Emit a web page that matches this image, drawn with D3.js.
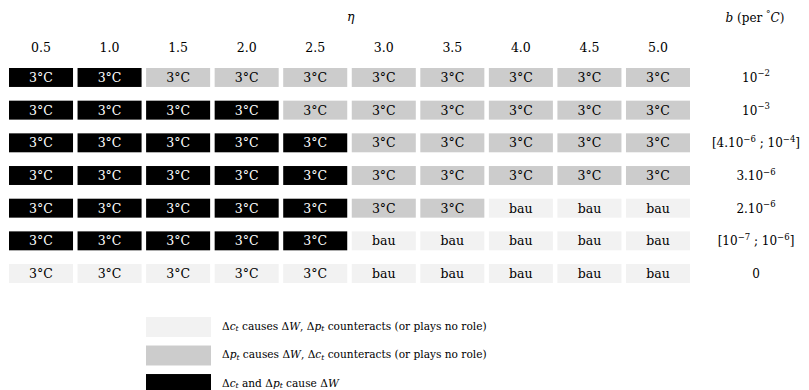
<!DOCTYPE html>
<html>
<head>
<meta charset="utf-8">
<script src="https://cdn.jsdelivr.net/npm/d3@7"></script>
<style>
  html, body { margin: 0; padding: 0; background: #fff; }
</style>
</head>
<body>
<svg id="chart" width="809" height="390"></svg>
<script>
// η values along the columns
const etaValues = ["0.5", "1.0", "1.5", "2.0", "2.5", "3.0", "3.5", "4.0", "4.5", "5.0"];

// b values, one per row, split into plain and superscript pieces
const bLabels = [
  [["10"], ["-2", "sup"]],
  [["10"], ["-3", "sup"]],
  [["[4.10"], ["-6", "sup"], [" ; 10"], ["-4", "sup"], ["]"]],
  [["3.10"], ["-6", "sup"]],
  [["2.10"], ["-6", "sup"]],
  [["[10"], ["-7", "sup"], [" ; 10"], ["-6", "sup"], ["]"]],
  [["0"]]
];

// Cause code per cell: C = Δc causes ΔW, P = Δp causes ΔW, B = both
const causeRows = [
  "BBPPPPPPPP",
  "BBBBPPPPPP",
  "BBBBBPPPPP",
  "BBBBBPPPPP",
  "BBBBBPPCCC",
  "BBBBBCCCCC",
  "CCCCCCCCCC"
];

// Optimal policy outcome per cell: T = 3°C target, U = business as usual
const outcomeRows = [
  "TTTTTTTTTT",
  "TTTTTTTTTT",
  "TTTTTTTTTT",
  "TTTTTTTTTT",
  "TTTTTTTUUU",
  "TTTTTUUUUU",
  "TTTTTUUUUU"
];

const FONT = "DejaVu Serif";
const outcomeText = { T: "3°C", U: "bau" };
const causeKeys = ["C", "P", "B"];
const causeFill = d3.scaleOrdinal().domain(causeKeys).range(["#f2f2f2", "#cccccc", "#000000"]);
const causeInk = d3.scaleOrdinal().domain(causeKeys).range(["#000", "#000", "#fff"]);

const svg = d3.select("#chart").attr("font-family", FONT);

const x = d3.scaleBand().domain(etaValues).range([9, 690]).paddingInner(0.066).paddingOuter(0);
const y = d3.scaleBand().domain(d3.range(bLabels.length)).range([68, 283]).paddingInner(0.42).paddingOuter(0);

const cells = [];
causeRows.forEach((row, r) => {
  etaValues.forEach((eta, c) => {
    cells.push({ r, eta, cause: row[c], outcome: outcomeRows[r][c] });
  });
});

// Column headers
svg.append("g").selectAll("text").data(etaValues).join("text")
  .attr("font-family", FONT)
  .attr("x", d => x(d) + x.bandwidth() / 2)
  .attr("y", 52)
  .attr("text-anchor", "middle")
  .attr("font-size", 12.5)
  .text(d => d);

// Axis titles
svg.append("text")
  .attr("font-family", FONT)
  .attr("x", x("3.0") - 1).attr("y", 21)
  .attr("text-anchor", "middle")
  .attr("font-size", 12.5).attr("font-style", "italic")
  .text("η");

const bt = svg.append("text").attr("font-family", FONT).attr("x", 755).attr("y", 22)
  .attr("text-anchor", "middle").attr("font-size", 12);
bt.append("tspan").attr("font-style", "italic").text("b");
bt.append("tspan").text(" (per ");
bt.append("tspan").attr("font-size", 9).attr("dy", -5).text("°");
bt.append("tspan").attr("font-style", "italic").attr("dy", 5).text("C");
bt.append("tspan").text(")");

// Cells
const g = svg.append("g");
g.selectAll("rect").data(cells).join("rect")
  .attr("x", d => x(d.eta))
  .attr("y", d => y(d.r))
  .attr("width", x.bandwidth())
  .attr("height", y.bandwidth())
  .attr("fill", d => causeFill(d.cause));

g.selectAll("text").data(cells).join("text")
  .attr("font-family", FONT)
  .attr("x", d => x(d.eta) + x.bandwidth() / 2)
  .attr("y", d => y(d.r) + y.bandwidth() / 2 + 4.5)
  .attr("text-anchor", "middle")
  .attr("font-size", 12.5)
  .attr("fill", d => causeInk(d.cause))
  .text(d => outcomeText[d.outcome]);

// Row labels (b values)
const rl = svg.append("g").selectAll("text").data(bLabels).join("text")
  .attr("font-family", FONT)
  .attr("x", 756)
  .attr("y", (d, i) => y(i) + y.bandwidth() / 2 + 4.5)
  .attr("text-anchor", "middle")
  .attr("font-size", 12);
rl.each(function(parts) {
  const t = d3.select(this);
  let raised = false;
  parts.forEach(p => {
    const sup = p[1] === "sup";
    const s = t.append("tspan").text(p[0].replace("-", "\u2212"));
    if (sup && !raised) { s.attr("dy", -5.5).attr("font-size", 8.5); raised = true; }
    else if (sup) { s.attr("font-size", 8.5); }
    else if (raised) { s.attr("dy", 5.5); raised = false; }
  });
});

// Legend
const legendItems = [
  { key: "C", parts: [["Δ"], ["c", "i"], ["t", "sub"], [" causes Δ"], ["W", "i"], [", Δ"], ["p", "i"], ["t", "sub"], [" counteracts (or plays no role)"]] },
  { key: "P", parts: [["Δ"], ["p", "i"], ["t", "sub"], [" causes Δ"], ["W", "i"], [", Δ"], ["c", "i"], ["t", "sub"], [" counteracts (or plays no role)"]] },
  { key: "B", parts: [["Δ"], ["c", "i"], ["t", "sub"], [" and Δ"], ["p", "i"], ["t", "sub"], [" cause Δ"], ["W", "i"]] }
];
const ly = d3.scaleBand().domain(d3.range(legendItems.length)).range([317, 394]).paddingInner(0.3).paddingOuter(0);
const lg = svg.append("g").selectAll("g").data(legendItems).join("g")
  .attr("transform", (d, i) => `translate(0,${ly(i)})`);
lg.append("rect").attr("x", 146).attr("width", 65).attr("height", ly.bandwidth())
  .attr("fill", d => causeFill(d.key));
lg.append("text").attr("font-family", FONT).attr("x", 222).attr("y", 12.8)
  .attr("font-size", 10.6)
  .each(function(d) {
    const t = d3.select(this);
    let low = false;
    d.parts.forEach(p => {
      const s = t.append("tspan").text(p[0]);
      if (p[1] === "i") s.attr("font-style", "italic");
      if (p[1] === "sub") { s.attr("font-size", 7.5).attr("font-style", "italic").attr("dy", 1.5); low = true; }
      else if (low) { s.attr("dy", -1.5); low = false; }
    });
  });
</script>
</body>
</html>
